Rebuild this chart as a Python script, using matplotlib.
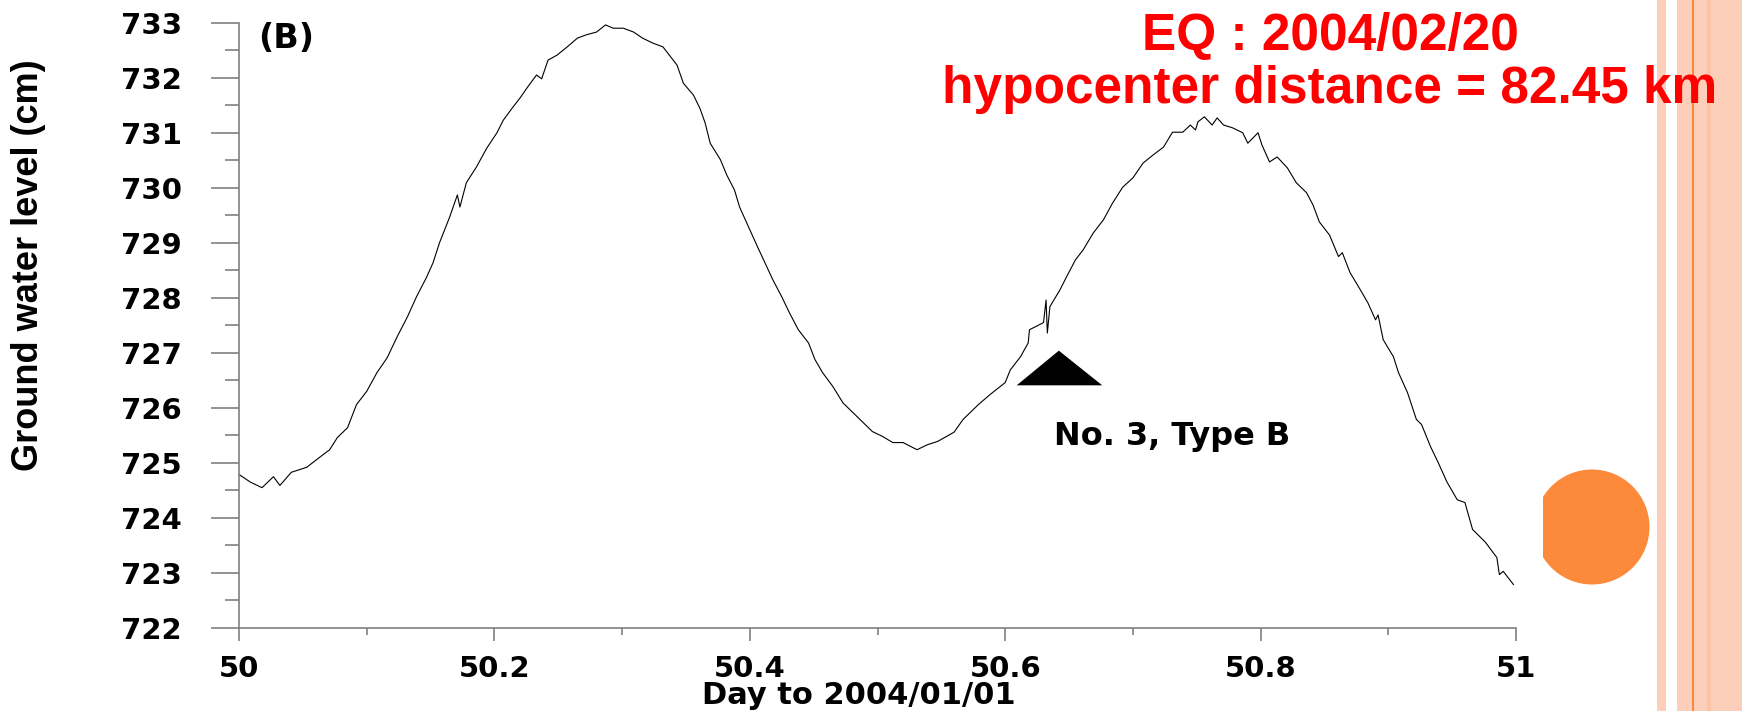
import matplotlib
matplotlib.use('Agg')
import numpy as np
import matplotlib.pyplot as plt
from matplotlib.patches import Rectangle, Circle, Polygon

# groundwater record (day of 2004, level in cm)
day = [50.000, 50.009, 50.018, 50.027, 50.032, 50.041, 50.053, 50.063, 50.071, 50.077,
       50.085, 50.092, 50.100, 50.108, 50.116, 50.124, 50.132, 50.139, 50.147, 50.152,
       50.157, 50.165, 50.171, 50.173, 50.178, 50.186, 50.194, 50.202, 50.207, 50.214,
       50.220, 50.226, 50.233, 50.237, 50.242, 50.249, 50.257, 50.265, 50.272, 50.280,
       50.287, 50.293, 50.301, 50.309, 50.316, 50.324, 50.332, 50.338, 50.343, 50.348,
       50.356, 50.361, 50.365, 50.369, 50.377, 50.382, 50.388, 50.392, 50.399, 50.406,
       50.412, 50.418, 50.425, 50.431, 50.438, 50.446, 50.451, 50.457, 50.465, 50.473,
       50.481, 50.489, 50.496, 50.504, 50.512, 50.520, 50.531, 50.539, 50.547, 50.554,
       50.560, 50.567, 50.579, 50.588, 50.600, 50.604, 50.612, 50.618, 50.619, 50.630,
       50.632, 50.633, 50.635, 50.643, 50.648, 50.655, 50.661, 50.669, 50.677, 50.684,
       50.692, 50.700, 50.708, 50.716, 50.724, 50.731, 50.739, 50.745, 50.749, 50.751,
       50.756, 50.762, 50.766, 50.771, 50.778, 50.786, 50.790, 50.798, 50.801, 50.807,
       50.813, 50.821, 50.828, 50.836, 50.841, 50.846, 50.854, 50.861, 50.864, 50.870,
       50.878, 50.884, 50.890, 50.892, 50.896, 50.904, 50.908, 50.915, 50.922, 50.926,
       50.933, 50.939, 50.946, 50.954, 50.960, 50.966, 50.976, 50.985, 50.987, 50.990,
       50.998]
level = [724.79, 724.65, 724.55, 724.75, 724.59, 724.83, 724.92, 725.10, 725.24, 725.46,
         725.64, 726.06, 726.30, 726.64, 726.91, 727.30, 727.66, 728.02, 728.38, 728.64,
         729.00, 729.47, 729.87, 729.65, 730.09, 730.38, 730.72, 731.00, 731.23, 731.45,
         731.63, 731.83, 732.05, 731.98, 732.32, 732.41, 732.56, 732.72, 732.78, 732.83,
         732.96, 732.90, 732.90, 732.83, 732.72, 732.63, 732.56, 732.38, 732.23, 731.90,
         731.68, 731.44, 731.18, 730.81, 730.51, 730.23, 729.96, 729.65, 729.29, 728.93,
         728.63, 728.33, 728.02, 727.73, 727.42, 727.18, 726.88, 726.64, 726.39, 726.09,
         725.91, 725.73, 725.57, 725.48, 725.37, 725.37, 725.24, 725.33, 725.39, 725.48,
         725.56, 725.79, 726.06, 726.24, 726.46, 726.69, 726.93, 727.18, 727.42, 727.55,
         727.96, 727.36, 727.84, 728.15, 728.38, 728.69, 728.87, 729.18, 729.42, 729.72,
         730.01, 730.18, 730.45, 730.60, 730.74, 731.01, 731.01, 731.14, 731.05, 731.20,
         731.29, 731.14, 731.27, 731.14, 731.09, 731.00, 730.81, 731.00, 730.78, 730.47,
         730.56, 730.36, 730.09, 729.91, 729.69, 729.38, 729.14, 728.75, 728.82, 728.46,
         728.15, 727.91, 727.60, 727.69, 727.24, 726.93, 726.64, 726.28, 725.79, 725.70,
         725.30, 725.01, 724.65, 724.33, 724.28, 723.79, 723.56, 723.28, 722.97, 723.03,
         722.79]

# arrival marker (triangle) for event No. 3
tri_day = [50.609, 50.642, 50.676]
tri_level = [726.41, 727.04, 726.41]
event_label = 'No. 3, Type B'
event_label_pos = (50.731, 725.48)

xticks = [50, 50.2, 50.4, 50.6, 50.8, 51]
xticklabels = ['50', '50.2', '50.4', '50.6', '50.8', '51']
yticks = list(range(722, 734))

W, H = 1744, 711
fig = plt.figure(figsize=(W / 100, H / 100), dpi=100)
ax = fig.add_axes([239 / W, 1 - 628 / H, (1516 - 239) / W, (628 - 22.7) / H])

ax.plot(day, level, '-', color='k', linewidth=0.8)
ax.add_patch(Polygon(np.column_stack([tri_day, tri_level]), closed=True,
                     facecolor='k', edgecolor='none'))

ax.set_xlim(50, 51)
ax.set_ylim(722, 733)
for s in ['top', 'right']:
    ax.spines[s].set_visible(False)
for s in ['left', 'bottom']:
    ax.spines[s].set_color('#808080')
    ax.spines[s].set_linewidth(1.2)

ax.set_xticks(xticks)
ax.set_xticklabels(xticklabels)
ax.set_xticks(np.arange(50.1, 51, 0.2), minor=True)
ax.set_yticks(yticks)
ax.set_yticks(np.arange(722.5, 733, 1.0), minor=True)

ax.tick_params(axis='x', which='major', direction='out', length=9.5, width=1.2,
               color='#808080', pad=10)
ax.tick_params(axis='x', which='minor', direction='out', length=5, width=1.2,
               color='#808080')
ax.tick_params(axis='y', which='major', direction='out', length=20, width=1.2,
               color='#808080', pad=21)
ax.tick_params(axis='y', which='minor', direction='out', length=10, width=1.2,
               color='#808080')
for lab in ax.get_xticklabels() + ax.get_yticklabels():
    lab.set_fontweight('bold')
    lab.set_fontsize(21)
    lab.set_family('DejaVu Sans')

fig.text(859 / W, 1 - 695 / H, 'Day to 2004/01/01', ha='center', va='center',
         fontsize=22, fontweight='bold', family='DejaVu Sans')
fig.text(29 / W, 1 - 265 / H, 'Ground water level (cm)', rotation=90,
         ha='center', va='center', fontsize=26, fontweight='bold',
         family='Liberation Sans')

fig.text(258 / W, 1 - 39 / H, '(B)', ha='left', va='center',
         fontsize=24, fontweight='bold', family='DejaVu Sans')
ax.text(event_label_pos[0], event_label_pos[1], event_label, ha='center', va='center',
        fontsize=23, fontweight='bold', family='DejaVu Sans')

# red headline
fig.text(1330 / W, 1 - 37 / H, 'EQ : 2004/02/20', ha='center', va='center',
         color='#ff0000', fontsize=37, fontweight='bold', family='Liberation Sans')
fig.text(1330 / W, 1 - 89 / H, 'hypocenter distance = 82.45 km', ha='center',
         va='center', color='#ff0000', fontsize=37, fontweight='bold',
         family='Liberation Sans')

# slide decoration on the right edge
inch = fig.dpi_scale_trans
for x0, w, c in [(1657, 9, '#fdcfba'), (1677, 65, '#fdcfba'),
                 (1707, 4, '#fcc2a6'), (1692, 2, '#f7873a')]:
    fig.patches.append(Rectangle((x0 / 100, 0), w / 100, H / 100, transform=inch,
                                 facecolor=c, edgecolor='none', zorder=0))
clip = Rectangle((15.43, 0), 3, H / 100, transform=inch)
dot = Circle((15.92, (H - 527) / 100), 0.575, transform=inch,
             facecolor='#fd8a3a', edgecolor='none')
dot.set_clip_path(clip)
fig.patches.append(dot)

fig.savefig('out.png', dpi=100)
